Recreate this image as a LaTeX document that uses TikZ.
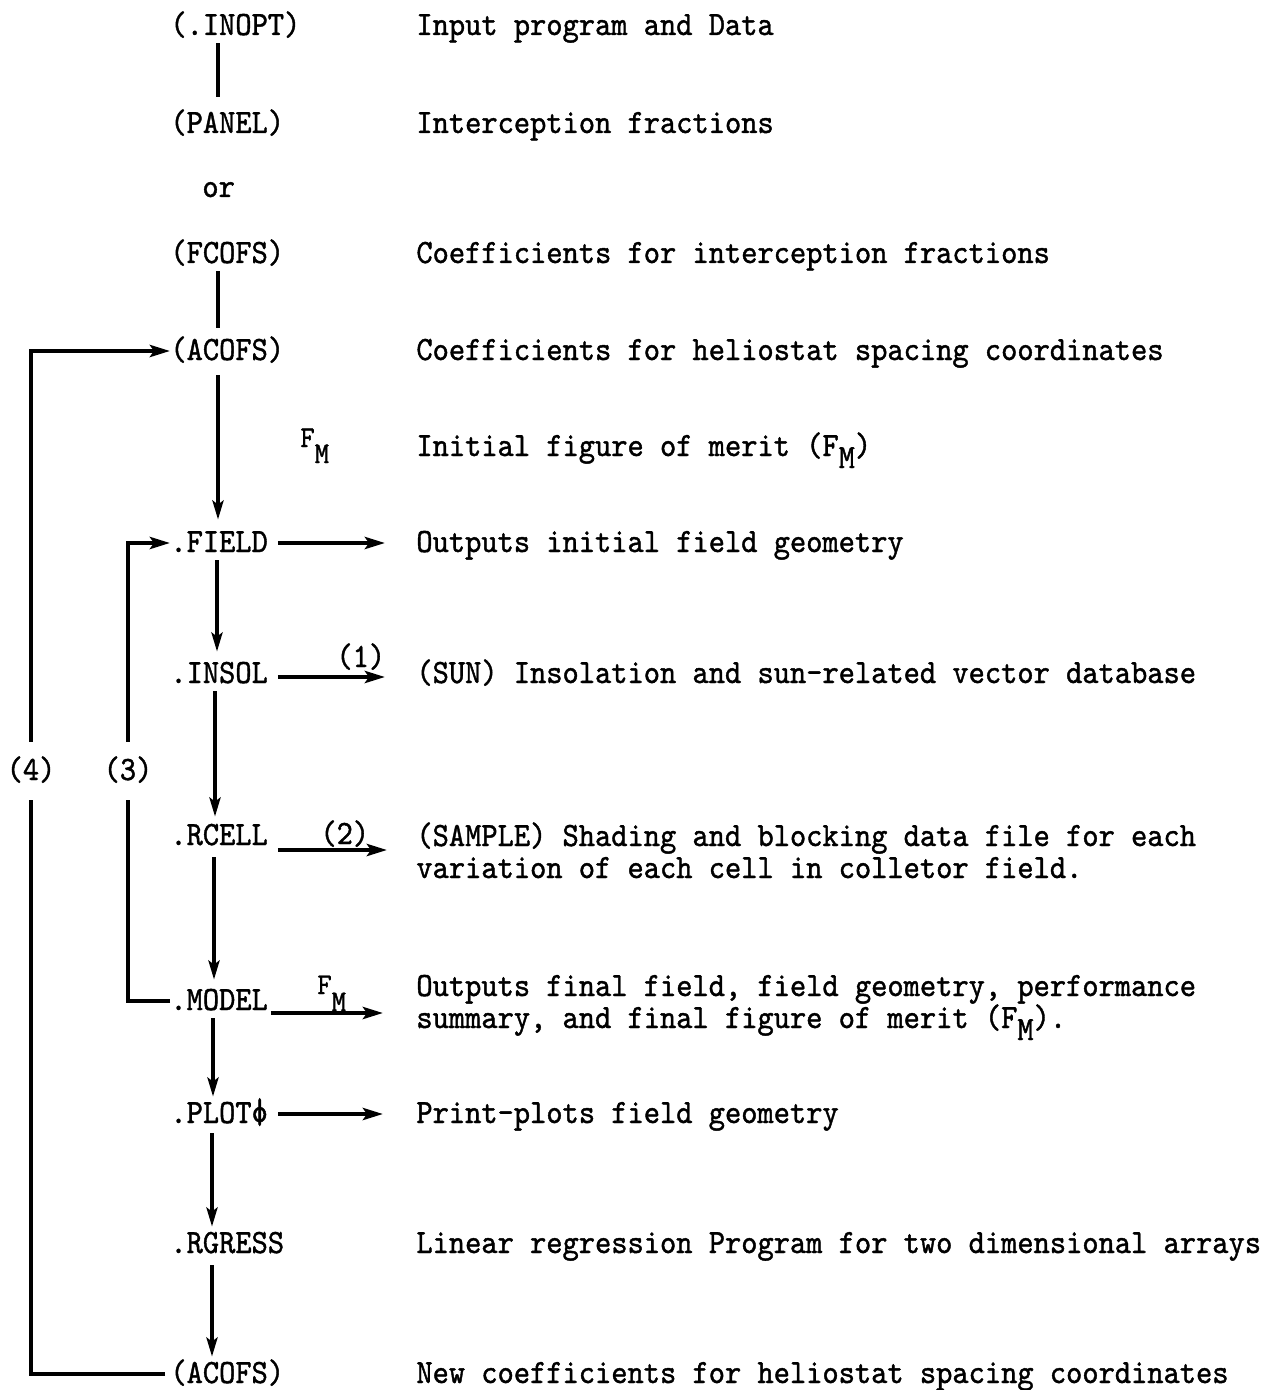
\documentclass[tikz,border=0pt]{standalone}
\usepackage{fontspec}
\setmonofont{lmmono10-regular.otf}[FakeStretch=0.91,FakeBold=1.2]
\usetikzlibrary{arrows.meta,calc}
\newcommand\FMsub[1]{F\raisebox{-#1}{M}}
\newcommand\ttphi{\ooalign{\raisebox{0.5pt}{o}\cr\hfil\scalebox{1}[1.05]{|}\hfil\cr}}
\tikzset{
  lbl/.style={inner sep=0pt, font=\ttfamily\fontsize{17}{16}\selectfont, text height=13pt, text depth=4pt, anchor=base west},
  desc/.style={inner sep=0pt, font=\ttfamily\fontsize{17}{16}\selectfont, anchor=base west},
  fmlbl/.style={inner sep=0pt, font=\ttfamily\fontsize{15}{15}\selectfont, anchor=base west},
  conn/.style={line width=2.2pt},
  varr/.style={conn, -{Stealth[length=9.5pt,width=5.5pt,inset=2pt]}},
  harr/.style={conn, -{Stealth[length=10pt,width=6pt,inset=2pt]}},
  looplbl/.style={lbl, anchor=center, inner ysep=6pt}
}
\begin{document}
\begin{tikzpicture}[x=0.5pt,y=-0.5pt]
\useasboundingbox (0,0) rectangle (1273,1390);
% spine coordinates
\coordinate (sA) at (218,0);
\coordinate (sB) at (217,0);
\coordinate (sC) at (215,0);
\coordinate (sD) at (214,0);
\coordinate (sE) at (213,0);
\coordinate (sF) at (212,0);
% left column
\node[lbl] (inopt) at (170,35) {(.INOPT)};
\node[lbl] (panel) at (170,133) {(PANEL)};
\node[lbl] (or) at (202,197) {or};
\node[lbl] (fcofs) at (170,263) {(FCOFS)};
\node[lbl] (acofsA) at (170,360) {(ACOFS)};
\node[fmlbl] (fmA) at (300,447) {\FMsub{8pt}};
\node[lbl] (field) at (170,552) {.FIELD};
\node[lbl] (insol) at (170,683) {.INSOL};
\node[lbl] (rcell) at (170,845) {.RCELL};
\node[lbl] (model) at (170,1010) {.MODEL};
\node[lbl] (plot) at (170,1123) {.PLOT\ttphi};
\node[lbl] (rgress) at (170,1253) {.RGRESS};
\node[lbl] (acofsB) at (170,1383) {(ACOFS)};
% loop labels
\node[looplbl] (l4) at (31,771) {(4)};
\node[looplbl] (l3) at (128,771) {(3)};
% arrow labels
\node[lbl] (one) at (336,667) {(1)};
\node[lbl] (two) at (320,844) {(2)};
\node[fmlbl] (fmB) at (317,994) {\FMsub{8.5pt}};
% descriptions
\node[desc] (dInopt) at (416,35) {Input program and Data};
\node[desc] (dPanel) at (416,133) {Interception fractions};
\node[desc] (dFcofs) at (416,263) {Coefficients for interception fractions};
\node[desc] (dAcofs) at (416,360) {Coefficients for heliostat spacing coordinates};
\node[desc] (dFm) at (416,456) {Initial figure of merit (\FMsub{6pt})};
\node[desc] (dField) at (416,552) {Outputs initial field geometry};
\node[desc] (dSun) at (416,683) {(SUN) Insolation and sun-related vector database};
\node[desc] (dSample) at (416,846) {(SAMPLE) Shading and blocking data file for each};
\node[desc] (dSample2) at (416,878) {variation of each cell in colletor field.};
\node[desc] (dModel) at (416,996) {Outputs final field, field geometry, performance};
\node[desc] (dModel2) at (416,1028) {summary, and final figure of merit (\FMsub{6pt}).};
\node[desc] (dPlot) at (416,1123) {Print-plots field geometry};
\node[desc] (dRgress) at (416,1253) {Linear regression Program for two dimensional arrays};
\node[desc] (dAcofsB) at (416,1383) {New coefficients for heliostat spacing coordinates};
% vertical connectors
\draw[conn, shorten >=5pt] (inopt.south -| sA) -- (panel.north -| sA);
\draw[conn, shorten >=3pt] (fcofs.south -| sA) -- (acofsA.north -| sA);
\draw[varr, shorten <=3.5pt, shorten >=3pt] (acofsA.south -| sA) -- (field.north -| sA);
\draw[varr, shorten >=2.5pt] (field.south -| sB) -- (insol.north -| sB);
\draw[varr, shorten >=1pt] (insol.south -| sC) -- (rcell.north -| sC);
\draw[varr, shorten <=2pt, shorten >=2pt] (rcell.south -| sD) -- (model.north -| sD);
\draw[varr] (model.south -| sE) -- (plot.north -| sE);
\draw[varr, shorten <=1pt] (plot.south -| sF) -- (rgress.north -| sF);
\draw[varr, shorten <=2pt] (rgress.south -| sF) -- (acofsB.north -| sF);
% horizontal connectors
\draw[harr, shorten <=4.75pt, shorten >=15.5pt] (field.east) -- (field.east -| dField.west);
\draw[harr, shorten <=4.75pt, shorten >=15.5pt] ([yshift=-1.5pt]insol.east) -- ([yshift=-1.5pt]insol.east -| dSun.west);
\draw[harr, shorten <=4.75pt, shorten >=14.5pt] ([yshift=-7pt]rcell.east) -- ([yshift=-7pt]rcell.east -| dSample.west);
\draw[harr, shorten <=1.25pt, shorten >=16.5pt] ([yshift=-6pt]model.east) -- ([yshift=-6pt]model.east -| dModel.west);
\draw[harr, shorten <=5pt, shorten >=16.5pt] (plot.east) -- (plot.east -| dPlot.west);
% feedback loops
\draw[conn, shorten <=2.5pt] (acofsB.west) -| (l4.south);
\draw[harr] (l4.north) |- (acofsA.west);
\draw[conn] (model.west) -| (l3.south);
\draw[harr] (l3.north) |- (field.west);
\end{tikzpicture}
\end{document}
